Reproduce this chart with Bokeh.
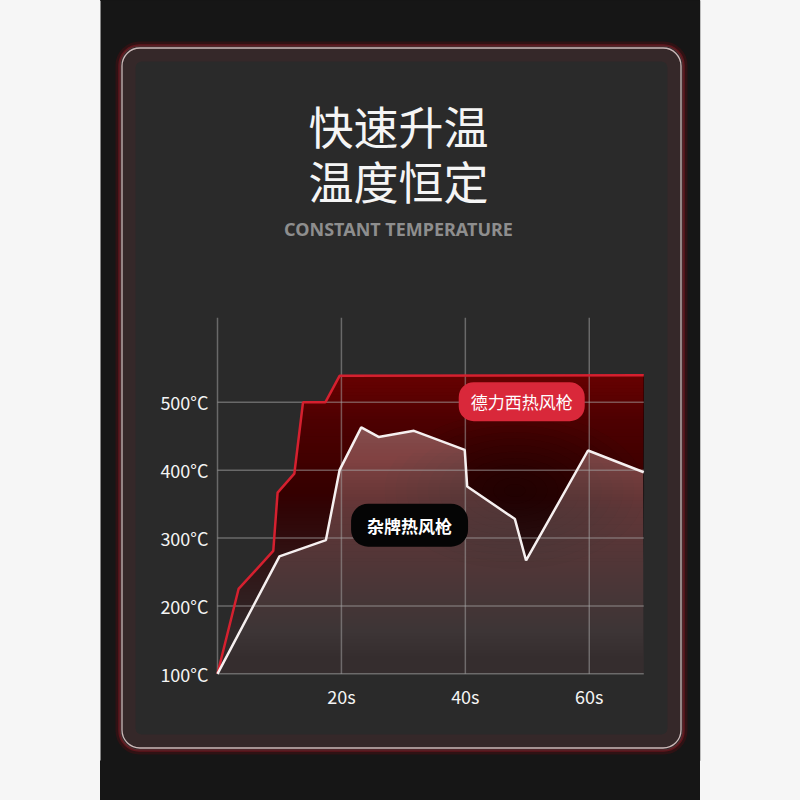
import numpy as np
from bokeh.plotting import figure
from bokeh.models import Range1d, FixedTicker, BoxAnnotation, Label
from bokeh.embed import file_html
from bokeh.resources import INLINE

# ---- data ----
time_red = [0, 3.4, 9.0, 9.7, 12.4, 13.8, 17.4, 19.7, 68.8]
temp_red = [100, 225, 281, 367, 395, 500, 500, 539, 540]

time_white = [0, 10.0, 17.5, 19.7, 23.2, 26.0, 31.7, 39.9, 40.3, 48.0, 49.8, 59.8, 68.8]
temp_white = [100, 273, 297, 400, 463, 449, 458, 430, 376, 328, 267, 429, 397]

x_ticks = [20, 40, 60]
x_tick_labels = ["20s", "40s", "60s"]
y_ticks = [100, 200, 300, 400, 500]
y_tick_labels = ["100°C", "200°C", "300°C", "400°C", "500°C"]
x_grid = [0, 20, 40, 60]

series_red_name = "德力西热风枪"
series_white_name = "杂牌热风枪"
title_1 = "快速升温"
title_2 = "温度恒定"
subtitle = "CONSTANT TEMPERATURE"

# ---- layout constants (pixels) ----
CJK = "Noto Sans CJK SC"
W = H = 800
BL, BB = 80, 40                 # side panels holding the axes
X0_PX, PX_PER_S = 217.0, 6.196  # where t=0 sits, px per second
Y0_PX, PX_PER_C = 673.3, 0.6787 # where 100°C sits, px per degree
T_END, TEMP_TOP = 68.8, 624.5   # chart extent
PAGE_BG = "#161616"
SIDE_BG = "#f6f6f6"

x_start = (BL - X0_PX) / PX_PER_S
x_end = (W - X0_PX) / PX_PER_S
y_top = 100 + Y0_PX / PX_PER_C
y_bot = 100 - ((H - BB) - Y0_PX) / PX_PER_C

p = figure(width=W, height=H, output_backend="svg", toolbar_location=None,
           x_range=Range1d(x_start, x_end), y_range=Range1d(y_bot, y_top),
           min_border_left=BL, min_border_right=0,
           min_border_top=0, min_border_bottom=BB)
p.extra_x_ranges = {"px": Range1d(BL, W)}
p.extra_y_ranges = {"px": Range1d(H - BB, 0)}
p.border_fill_color = None
p.background_fill_color = None
p.outline_line_color = None
p.grid.visible = False
p.styles = {"background-color": SIDE_BG,
            "background-image": f"linear-gradient({PAGE_BG}, {PAGE_BG})",
            "background-repeat": "no-repeat",
            "background-position": "100px 0px",
            "background-size": "600px 100%"}


def box(l, r, t, b, **kw):
    bx = BoxAnnotation(left=l, right=r, top=t, bottom=b,
                       x_range_name="px", y_range_name="px", level="image", **kw)
    p.add_layout(bx)


# page column: dark middle, light sides
box(100, 700, 0, H, fill_color=PAGE_BG, fill_alpha=1, line_color=None)
box(BL, 100, 0, H, fill_color=SIDE_BG, fill_alpha=1, line_color=None)
box(700, W, 0, H, fill_color=SIDE_BG, fill_alpha=1, line_color=None)
# card
box(117, 685, 43, 752, fill_color=None, line_color="#6a0a12", line_alpha=0.3,
    line_width=4, border_radius=22)
box(119, 683, 45, 750, fill_color="#2a2a2a", fill_alpha=1,
    line_color="#d21f2e", line_width=2.5, border_radius=20)
box(128, 674, 54, 741, fill_color=None, line_color="#a01c2a", line_alpha=0.10,
    line_width=14, border_radius=13)
box(121.5, 680.5, 47.5, 747.5, fill_color=None, line_color="#f2dcdc", line_alpha=0.8,
    line_width=1.3, border_radius=18)

# ---- titles ----
for txt, yy, size, col, style, font in [
        (title_1, 125, "45px", "#f5f5f5", "normal", CJK),
        (title_2, 180, "45px", "#f5f5f5", "normal", CJK),
        (subtitle, 228, "18px", "#8e8e8e", "bold", "Noto Sans")]:
    p.add_layout(Label(x=398, y=yy, x_range_name="px", y_range_name="px", text=txt,
                       text_align="center", text_baseline="middle",
                       text_font=font, text_font_size=size, text_color=col,
                       text_font_style=style))

# ---- axes drawn at the chart corner ----
p.xaxis.ticker = FixedTicker(ticks=x_ticks)
p.xaxis.major_label_overrides = {t: l for t, l in zip(x_ticks, x_tick_labels)}
p.yaxis.ticker = FixedTicker(ticks=y_ticks)
p.yaxis.major_label_overrides = {t: l for t, l in zip(y_ticks, y_tick_labels)}
p.xaxis.fixed_location = 100
p.yaxis.fixed_location = 0
for ax in (p.xaxis, p.yaxis):
    ax.axis_line_color = None
    ax.major_tick_line_color = None
    ax.minor_tick_line_color = None
    ax.major_label_text_color = "#f4f4f4"
    ax.major_label_text_font = CJK
    ax.major_label_text_font_size = "18px"
p.yaxis.major_label_standoff = 3
p.xaxis.major_label_standoff = 3


# ---- vertical gradient fills: stacked translucent bands above thresholds ----
def band_top(x, y, thr):
    xs, ys = [], []
    for i in range(len(x)):
        if i > 0:
            y0, y1 = y[i - 1], y[i]
            if (y0 - thr) * (y1 - thr) < 0:
                xs.append(x[i - 1] + (thr - y0) * (x[i] - x[i - 1]) / (y1 - y0))
                ys.append(thr)
        xs.append(x[i])
        ys.append(max(y[i], thr))
    return xs, ys


def gradient_fill(x, y, color, opacity_at, step=5):
    prev = 0.0
    for thr in np.arange(100, max(y), step):
        target = opacity_at(thr + step / 2)
        a = 1 - (1 - target) / (1 - prev)
        prev = target
        if a <= 0.001:
            continue
        xs, ys = band_top(x, y, thr)
        p.varea(x=xs, y1=[thr] * len(xs), y2=ys, fill_color=color, fill_alpha=float(a))


gradient_fill(time_red, temp_red, "#a8141f",
              lambda T: 0.05 + 0.6 * min(max((T - 115) / 425, 0), 1) ** 1.9)

# soft dark shading in the middle of the red area
for k in range(12):
    f = 1 - k / 12
    p.ellipse(x=[48], y=[370], width=[42 * f], height=[230 * f],
              fill_color="#150e10", fill_alpha=0.05, line_color=None)

gradient_fill(time_white, temp_white, "#eed6da",
              lambda T: 0.03 + 0.40 * min(max((T - 120) / 340, 0), 1))

# ---- grid lines from the tick lists (over the fills, under the lines) ----
p.segment(x0=x_grid, y0=[100] * len(x_grid), x1=x_grid, y1=[TEMP_TOP] * len(x_grid),
          line_color="#a8a8a8", line_alpha=0.5, line_width=1.5)
p.segment(x0=[0] * len(y_ticks), y0=y_ticks, x1=[T_END] * len(y_ticks), y1=y_ticks,
          line_color="#a8a8a8", line_alpha=0.5, line_width=1.5)

p.line(time_red, temp_red, line_color="#d5202f", line_width=2.5)
p.line(time_white, temp_white, line_color="#f6f0f0", line_width=2.5)

# ---- series labels (pills) ----
p.add_layout(Label(x=49.1, y=501, text=series_red_name, text_align="center",
                   text_baseline="middle", text_font=CJK, text_font_size="17px",
                   text_color="white", background_fill_color="#d9283a",
                   padding=dict(left=12, right=12, top=7, bottom=7),
                   border_radius=15))
p.add_layout(Label(x=31.0, y=319, text=series_white_name, text_align="center",
                   text_baseline="middle", text_font=CJK, text_font_size="17px",
                   text_font_style="bold",
                   text_color="white", background_fill_color="#050505",
                   padding=dict(left=16, right=16, top=9, bottom=9),
                   border_radius=17))

open("out.html", "w").write(file_html(p, INLINE))
